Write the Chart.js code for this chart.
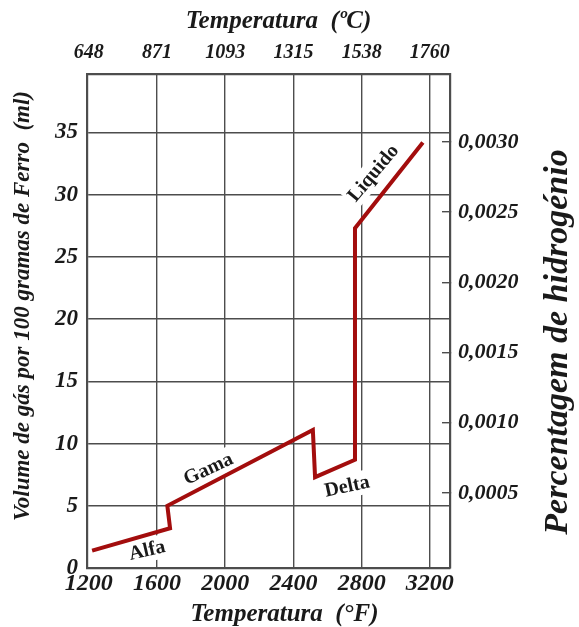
<!DOCTYPE html>
<html><head><meta charset="utf-8">
<script src="https://cdn.jsdelivr.net/npm/chart.js@4/dist/chart.umd.min.js"></script>
<style>html,body{margin:0;padding:0;background:#fff}canvas{display:block}</style>
</head><body>
<canvas id="c" width="579" height="627"></canvas>
<script>
// ---- data ----
const tempF  = [1220, 1677, 1661, 2514, 2527, 2761, 2761, 3159];
const volume = [1.4,  3.2,  5.0,  11.1, 7.3,  8.7,  27.3, 34.2];
const xTickValues   = [1200, 1600, 2000, 2400, 2800, 3200];
const topTickLabels = ['648', '871', '1093', '1315', '1538', '1760'];
const yTickValues   = [0, 5, 10, 15, 20, 25, 30, 35];
const rightTickValues = [0.0005, 0.0010, 0.0015, 0.0020, 0.0025, 0.0030];
const phaseNames = ['Alfa', 'Gama', 'Delta', 'Liquido'];
const phaseF     = [1541, 1900, 2714, 2866];
const phaseVol   = [1.45, 8.0, 6.6, 31.75];
const phaseAngle = [-13, -25, -12, -50];

const FONT = '"Liberation Serif", "DejaVu Serif", serif';
const GRID = '#4d4d4d';
const TXT = '#1a1a1a';

const overlay = {
  id: 'overlay',
  beforeDatasetsDraw(chart) {
    const {ctx, scales: {x, y}} = chart;
    ctx.save();
    ctx.font = 'bold 20px ' + FONT;
    phaseNames.forEach((t, i) => {
      const px = x.getPixelForValue(phaseF[i]);
      const py = y.getPixelForValue(phaseVol[i]);
      ctx.save();
      ctx.translate(px, py);
      ctx.rotate(phaseAngle[i] * Math.PI / 180);
      const w = ctx.measureText(t).width;
      ctx.fillStyle = '#fff';
      ctx.fillRect(-w / 2 - 3, -12, w + 6, 24);
      ctx.fillStyle = TXT;
      ctx.textAlign = 'center';
      ctx.textBaseline = 'middle';
      ctx.fillText(t, 0, 1);
      ctx.restore();
    });
    ctx.restore();
  },
  afterDraw(chart) {
    const {ctx, chartArea} = chart;
    const midY = (chartArea.top + chartArea.bottom) / 2;
    const midX = (chartArea.left + chartArea.right) / 2;
    ctx.save();
    ctx.fillStyle = TXT;
    ctx.textAlign = 'center';
    ctx.textBaseline = 'middle';
    // top and bottom axis titles
    ctx.font = 'bold italic 25px ' + FONT;
    ctx.fillText('Temperatura  (ºC)', midX + 10, 22);
    ctx.fillText('Temperatura  (°F)', midX + 16, chart.height - 12);
    // right axis title
    ctx.save();
    ctx.font = 'bold italic 34px ' + FONT;
    ctx.translate(chart.width - 21, midY + 21);
    ctx.rotate(-Math.PI / 2);
    ctx.fillText('Percentagem de hidrogénio', 0, 0);
    ctx.restore();
    // left axis title
    ctx.save();
    ctx.font = 'bold italic 23px ' + FONT;
    ctx.translate(23, midY - 15);
    ctx.rotate(-Math.PI / 2);
    ctx.fillText('Volume de gás por 100 gramas de Ferro  (ml)', 0, 0);
    ctx.restore();
    ctx.restore();
  }
};

const setTicks = vals => scale => { scale.ticks = vals.map(v => ({value: v})); };

new Chart(document.getElementById('c'), {
  type: 'line',
  data: {
    datasets: [{
      data: tempF.map((f, i) => ({x: f, y: volume[i]})),
      borderColor: '#a30d0d',
      borderWidth: 4,
      pointRadius: 0,
      tension: 0,
      borderJoinStyle: 'miter',
      xAxisID: 'x',
      yAxisID: 'y'
    }]
  },
  options: {
    responsive: false,
    animation: false,
    devicePixelRatio: 1,
    layout: {padding: 0},
    plugins: {legend: {display: false}, tooltip: {enabled: false}},
    scales: {
      x: {
        type: 'linear', position: 'bottom', min: 1190, max: 3318,
        afterBuildTicks: setTicks(xTickValues),
        afterFit: s => { s.height = 59; },
        ticks: {callback: v => String(v), font: {family: FONT, size: 24, style: 'italic', weight: 'bold'}, color: TXT, padding: 1, maxRotation: 0, autoSkip: false},
        grid: {color: c => (c.tick && c.tick.value === 1200) ? 'rgba(0,0,0,0)' : GRID, lineWidth: 1.4, drawTicks: false},
        border: {color: GRID, width: 2.2}
      },
      x2: {
        type: 'linear', position: 'top', min: 1190, max: 3318,
        afterBuildTicks: setTicks(xTickValues),
        afterFit: s => { s.height = 74; },
        ticks: {callback: (v, i) => topTickLabels[i], font: {family: FONT, size: 20, style: 'italic', weight: 'bold'}, color: TXT, padding: 9, maxRotation: 0, autoSkip: false},
        grid: {drawOnChartArea: false, drawTicks: false},
        border: {color: GRID, width: 2.2}
      },
      y: {
        type: 'linear', position: 'left', min: 0, max: 39.7,
        afterBuildTicks: setTicks(yTickValues),
        afterFit: s => { s.width = 87; },
        ticks: {font: {family: FONT, size: 23, style: 'italic', weight: 'bold'}, color: TXT, padding: 9},
        grid: {color: c => (c.tick && c.tick.value === 0) ? 'rgba(0,0,0,0)' : GRID, lineWidth: 1.4, drawTicks: false},
        border: {color: GRID, width: 2.2}
      },
      y2: {
        type: 'linear', position: 'right', min: -0.000034, max: 0.003484,
        afterBuildTicks: setTicks(rightTickValues),
        afterFit: s => { s.width = 129; },
        ticks: {callback: v => v.toFixed(4).replace('.', ','), font: {family: FONT, size: 22, style: 'italic', weight: 'bold'}, color: TXT, padding: 16},
        grid: {drawOnChartArea: false, drawTicks: true, tickLength: -8, color: GRID, lineWidth: 1.4},
        border: {color: GRID, width: 2.2}
      }
    }
  },
  plugins: [overlay]
});
</script>
</body></html>
